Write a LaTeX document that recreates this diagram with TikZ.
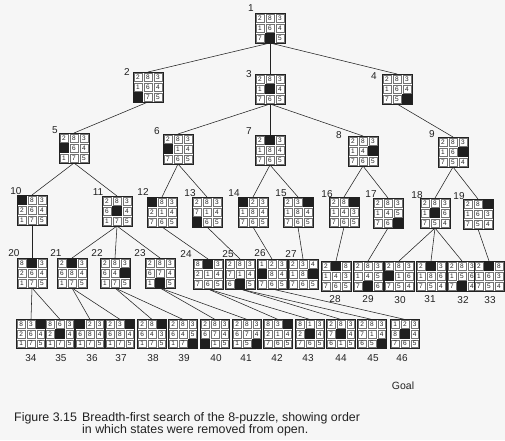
\documentclass[tikz,border=0pt]{standalone}
\usepackage{fontspec}
\setmainfont{Liberation Sans}
\pgfdeclarelayer{back}
\pgfdeclarelayer{bg}
\pgfsetlayers{back,bg,main}
\definecolor{bgc}{HTML}{F6F6F6}
\definecolor{inkc}{HTML}{222222}
\tikzset{
  boardbox/.style={draw=inkc, line width=0.5pt, fill=white, inner sep=0pt, outer sep=0pt},
  tilec/.style={draw=black!55, line width=0.35pt, fill=white, inner sep=0pt, outer sep=0pt,
    font=\fontsize{6.5}{6.5}\selectfont, text=inkc},
  blankc/.style={fill=black!88, draw=none, inner sep=0pt, outer sep=0pt},
  lab/.style={inner sep=0pt, font=\fontsize{10}{10}\selectfont, text=inkc},
  edge/.style={draw=inkc, line width=0.55pt},
  capt/.style={inner sep=0pt, font=\fontsize{12.4}{12.4}\selectfont, text=inkc, anchor=base west}
}
\newcommand\cellsz{10}
\newcommand\board[4]{%
  \node[boardbox, minimum size=3*\cellsz*1pt] (#1) at (#2,#3) {};
  \foreach \v [count=\k from 0] in {#4} {%
    \pgfmathtruncatemacro\cc{mod(\k,3)}%
    \pgfmathtruncatemacro\rr{\k/3}%
    \pgfmathsetmacro\cx{#2+(\cc-1)*\cellsz}%
    \pgfmathsetmacro\cy{#3+(\rr-1)*\cellsz}%
    \ifnum\v=0
      \node[blankc, minimum size=\cellsz*1pt] (#1-\k) at (\cx,\cy) {};
    \else
      \node[tilec, minimum size=\cellsz*1pt-1.8pt] (#1-\k) at (\cx,\cy) {\v};
    \fi
  }%
}
\begin{document}
\begin{tikzpicture}[x=1pt,y=-1pt]
\begin{pgfonlayer}{back}
\fill[bgc] (0,0) rectangle (505,440);
\end{pgfonlayer}
\useasboundingbox (0,0) rectangle (505,440);
\clip (0,0) rectangle (505,440);
% level 0-3
\board{n1}{270}{28}{2,8,3,1,6,4,7,0,5}
\board{n2}{148}{87}{2,8,3,1,6,4,0,7,5}
\board{n3}{270}{89}{2,8,3,1,0,4,7,6,5}
\board{n4}{397}{89}{2,8,3,1,6,4,7,5,0}
\board{n5}{74}{148}{2,8,3,0,6,4,1,7,5}
\board{n6}{178}{149}{2,8,3,0,1,4,7,6,5}
\board{n7}{270}{150}{2,0,3,1,8,4,7,6,5}
\board{n8}{363}{151}{2,8,3,1,4,0,7,6,5}
\board{n9}{453}{152}{2,8,3,1,6,0,7,5,4}
\board{n10}{32}{210}{0,8,3,2,6,4,1,7,5}
\board{n11}{117}{211}{2,8,3,6,0,4,1,7,5}
\board{n12}{162}{212}{0,8,3,2,1,4,7,6,5}
\board{n13}{207}{212}{2,8,3,7,1,4,0,6,5}
\board{n14}{253}{212}{0,2,3,1,8,4,7,6,5}
\board{n15}{298}{212}{2,3,0,1,8,4,7,6,5}
\board{n16}{344}{212}{2,8,0,1,4,3,7,6,5}
\board{n17}{388}{213}{2,8,3,1,4,5,7,6,0}
\board{n18}{435}{213}{2,8,3,1,0,6,7,5,4}
\board{n19}{478}{214}{2,8,0,1,6,3,7,5,4}
% level 4
\board{n20}{32}{273}{8,0,3,2,6,4,1,7,5}
\board{n21}{72}{273}{2,0,3,6,8,4,1,7,5}
\board{n22}{115}{273}{2,8,3,6,4,0,1,7,5}
\board{n23}{160}{273}{2,8,3,6,7,4,1,0,5}
\board{n24}{208}{274}{8,0,3,2,1,4,7,6,5}
\board{n25}{240}{274}{2,8,3,7,1,4,6,0,5}
\board{n26}{272}{274}{1,2,3,0,8,4,7,6,5}
\board{n27}{303}{274}{2,3,4,1,8,0,7,6,5}
\board{n28}{336}{276}{2,0,8,1,4,3,7,6,5}
\board{n29}{368}{276}{2,8,3,1,4,5,7,0,6}
\board{n30}{399}{276}{2,8,3,0,1,6,7,5,4}
\board{n31}{431}{276}{2,0,3,1,8,6,7,5,4}
\board{n32}{462}{276}{2,8,3,1,5,6,7,0,4}
\board{n33}{489}{276}{2,0,8,1,6,3,7,5,4}
% level 5
\renewcommand\cellsz{9.7}
\board{n34}{31}{334}{8,3,0,2,6,4,1,7,5}
\board{n35}{60}{334}{8,6,3,2,0,4,1,7,5}
\board{n36}{90}{334}{0,2,3,6,8,4,1,7,5}
\board{n37}{120}{334}{2,3,0,6,8,4,1,7,5}
\board{n38}{152}{334}{2,8,0,6,4,3,1,7,5}
\board{n39}{183}{334}{2,8,3,6,4,5,1,7,0}
\board{n40}{215}{334}{2,8,3,6,7,4,0,1,5}
\board{n41}{247}{334}{2,8,3,6,7,4,1,5,0}
\board{n42}{278}{334}{8,3,0,2,1,4,7,6,5}
\board{n43}{310}{334}{8,1,3,2,0,4,7,6,5}
\board{n44}{341}{334}{2,8,3,7,0,4,6,1,5}
\board{n45}{372}{334}{2,8,3,7,1,4,6,5,0}
\board{n46}{405}{334}{1,2,3,8,0,4,7,6,5}
% labels
\node[lab] (l1) at (251,8) {1};
\node[lab] (l2) at (127,72) {2};
\node[lab] (l3) at (249,74) {3};
\node[lab] (l4) at (374,76) {4};
\node[lab] (l5) at (55,130) {5};
\node[lab] (l6) at (157,131) {6};
\node[lab] (l7) at (249,131) {7};
\node[lab] (l8) at (339,135) {8};
\node[lab] (l9) at (432,134) {9};
\node[lab] (l10) at (16,191) {10};
\node[lab] (l11) at (98,192) {11};
\node[lab] (l12) at (143,192) {12};
\node[lab] (l13) at (190,193) {13};
\node[lab] (l14) at (234,193) {14};
\node[lab] (l15) at (281,193) {15};
\node[lab] (l16) at (327,194) {16};
\node[lab] (l17) at (371,194) {17};
\node[lab] (l18) at (417,195) {18};
\node[lab] (l19) at (459,196) {19};
\node[lab] (l20) at (14,253) {20};
\node[lab] (l21) at (56,253) {21};
\node[lab] (l22) at (97,253) {22};
\node[lab] (l23) at (140,253) {23};
\node[lab] (l24) at (186,254) {24};
\node[lab] (l25) at (228,254) {25};
\node[lab] (l26) at (260,253) {26};
\node[lab] (l27) at (291,254) {27};
\node[lab] (l28) at (335,299) {28};
\node[lab] (l29) at (368,299) {29};
\node[lab] (l30) at (400,300) {30};
\node[lab] (l31) at (430,299) {31};
\node[lab] (l32) at (463,300) {32};
\node[lab] (l33) at (490,300) {33};
\node[lab] (l34) at (31,358) {34};
\node[lab] (l35) at (61,358) {35};
\node[lab] (l36) at (92,358) {36};
\node[lab] (l37) at (121,358) {37};
\node[lab] (l38) at (153,358) {38};
\node[lab] (l39) at (184,358) {39};
\node[lab] (l40) at (216,358) {40};
\node[lab] (l41) at (246,358) {41};
\node[lab] (l42) at (277,358) {42};
\node[lab] (l43) at (308,358) {43};
\node[lab] (l44) at (341,358) {44};
\node[lab] (l45) at (373,358) {45};
\node[lab] (l46) at (402,358) {46};
\node[lab, font=\fontsize{10.5}{10.5}\selectfont] (goal) at (403,386) {Goal};
% caption
\node[capt] (cap1) at (14,421) {Figure 3.15};
\node[capt] (cap2) at (82,421) {Breadth-first search of the 8-puzzle, showing order};
\node[capt] (cap3) at (82,433) {in which states were removed from open.};
% edges
\begin{pgfonlayer}{bg}
\foreach \p/\c in {n1/n2,n1/n3,n1/n4,n2/n5,n3/n6,n3/n7,n3/n8,n4/n9,
  n5/n10,n5/n11,n6/n12,n6/n13,n7/n14,n7/n15,n8/n16,n8/n17,n9/n18,n9/n19,
  n10/n20,n11/n21,n11/n22,n11/n23,n12/n24,n13/n25,n14/n26,n15/n27,n16/n28,n17/n29,
  n18/n30,n18/n31,n18/n32,n19/n33,
  n20/n34,n20/n35,n21/n36,n21/n37,n22/n38,n22/n39,n23/n40,n23/n41,n24/n42,n24/n43,
  n25/n44,n25/n45,n26/n46}
  \draw[edge] (\p.south) -- (\c.north);
\end{pgfonlayer}
\end{tikzpicture}
\end{document}
